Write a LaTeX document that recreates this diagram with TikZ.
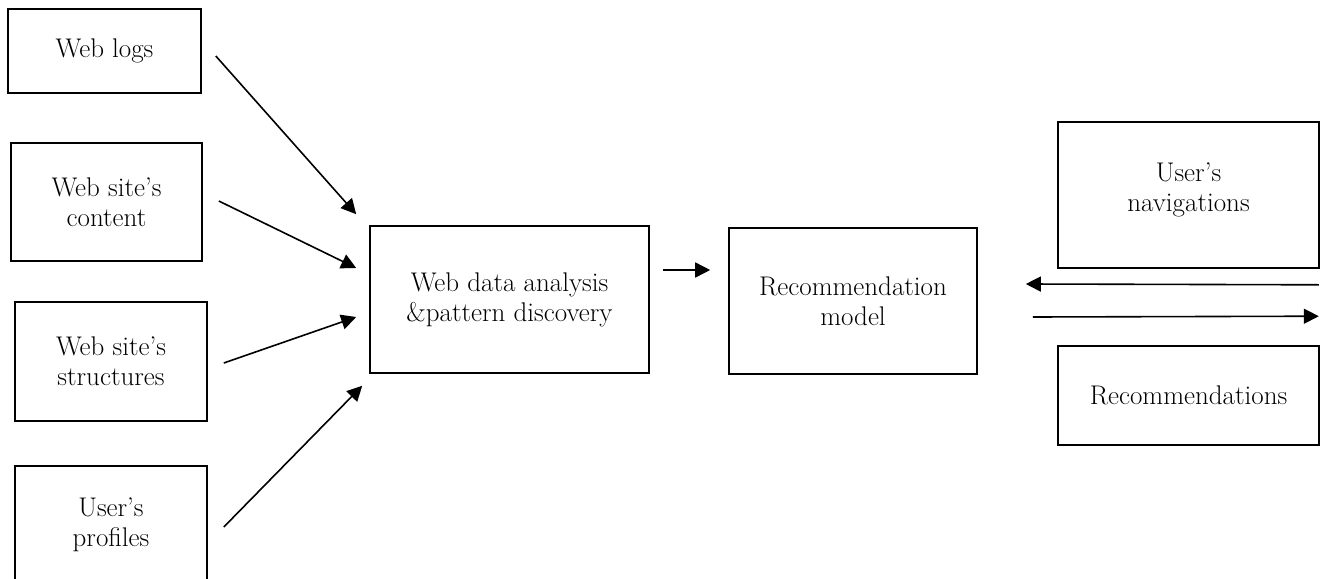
\documentclass[tikz,border=0pt]{standalone}
\usepackage{tikz}
\usetikzlibrary{arrows.meta,positioning}
\tikzset{
  box/.style={draw,line width=1.6pt,inner sep=0pt,align=center,
    font=\fontsize{27}{30}\selectfont},
  every node/.style={font=\fontsize{27}{30}\selectfont}
}
\tikzstyle{arrow} = [line width=1.6pt,-{Triangle[length=15pt,width=15pt]}]

\begin{document}
\begin{tikzpicture}[x=1pt,y=-1pt]
  \useasboundingbox (0,0) rectangle (1324,578);
  % sources
  \node[box,minimum width=193pt,minimum height=84pt] (logs) at (104.5,51) {Web logs};
  \node[box,minimum width=191pt,minimum height=118pt] (content) at (106.5,202) {Web site’s\\content};
  \node[box,minimum width=192pt,minimum height=119pt] (structures) at (111,361.5) {Web site’s\\structures};
  \node[box,minimum width=192pt,minimum height=118pt] (profiles) at (111,525) {User’s\\profiles};
  % processing
  \node[box,minimum width=279pt,minimum height=147pt] (analysis) at (509.5,299.5) {Web data analysis\\\&pattern discovery};
  \node[box,minimum width=248pt,minimum height=146pt] (recmodel) at (853,301) {Recommendation\\model};
  % user side
  \node[box,minimum width=261pt,minimum height=146pt] (navig) at (1188.5,195) {User’s\\navigations\\[-14pt]};
  \node[box,minimum width=261pt,minimum height=99pt] (recs) at (1188.5,395.5) {Recommendations};

  \draw[arrow] ([shift={(14,5)}]logs.east) -- ([shift={(-13,-11)}]analysis.north west);
  \draw[arrow] ([shift={(16,-1)}]content.east) -- ([shift={(-13,-31.5)}]analysis.west);
  \draw[arrow] ([shift={(16,1.5)}]structures.east) -- ([shift={(-13,17.5)}]analysis.west);
  \draw[arrow] ([shift={(16,2)}]profiles.east) -- ([shift={(-7,12)}]analysis.south west);
  \draw[arrow] ([shift={(13,-29.5)}]analysis.east) -- ([shift={(-18,-31)}]recmodel.west);
  \draw[arrow] ([shift={(-1,16)}]navig.south east) -- ([shift={(48,-17)}]recmodel.east);
  \draw[arrow] ([shift={(55,16)}]recmodel.east) -- ([shift={(-1,-29)}]recs.north east);
\end{tikzpicture}
\end{document}
